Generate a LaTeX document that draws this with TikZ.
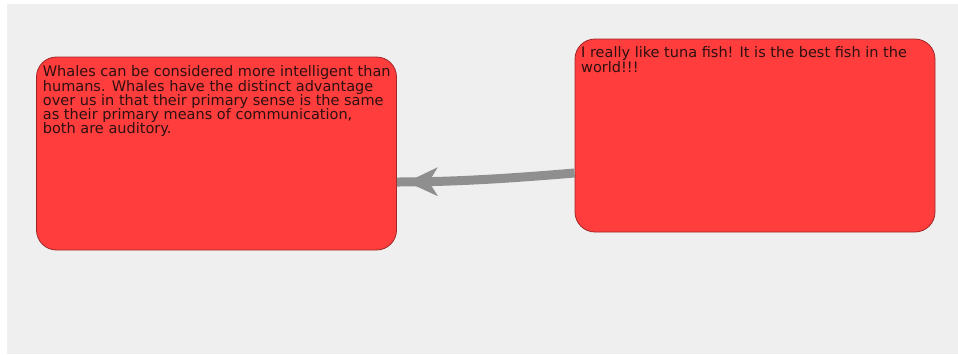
\documentclass[tikz,border=0pt]{standalone}
\usepackage{fontspec}
\setmainfont{DejaVu Sans}
\usetikzlibrary{arrows.meta,decorations.markings}
\definecolor{canvas}{HTML}{EFEFEF}
\definecolor{cardfill}{HTML}{FF3D3D}
\definecolor{cardline}{HTML}{A02626}
\definecolor{cardtext}{HTML}{2E1010}
\definecolor{linkgray}{HTML}{8F8F8F}
\tikzset{
  card/.style={draw=cardline, line width=0.8pt, fill=cardfill,
    rounded corners=20pt, inner sep=0pt,
    minimum width=360pt, minimum height=193pt},
  cardlabel/.style={anchor=north west, inner sep=0pt, align=left,
    text=cardtext, font=\fontsize{14.5}{14.1}\selectfont},
  link/.style={draw=linkgray, line width=9pt,
    postaction={decorate, decoration={markings,
      mark=at position -10pt with {\arrow{Stealth[length=31pt,width=29pt,inset=9pt,line width=0pt]}}}}}
}
\begin{document}
\begin{tikzpicture}[x=1pt,y=-1pt]
  \useasboundingbox (0,0) rectangle (958,354);
  \fill[white] (0,0) rectangle (958,354);
  \fill[canvas] (7,4) rectangle (958,354);

  % the two cards
  \node[card] (whale) at (216.5,153.5) {};
  \node[card] (tuna) at (755,135.5) {};

  \node[cardlabel] (whaletext) at (42.7,65.7)
    {Whales can be considered more intelligent than\\
     humans. Whales have the distinct advantage\\
     over us in that their primary sense is the same\\
     as their primary means of communication,\\
     both are auditory.};
  \node[cardlabel] (tunatext) at (581,46.7)
    {I really like tuna fish! It is the best fish in the\\
     world!!!};

  % link from the tuna card to the whale card
  \draw[link]
    ([yshift=-37.5pt]tuna.west) .. controls +(-60,5) and +(60,0) .. ([yshift=-28.5pt]whale.east);
\end{tikzpicture}
\end{document}
